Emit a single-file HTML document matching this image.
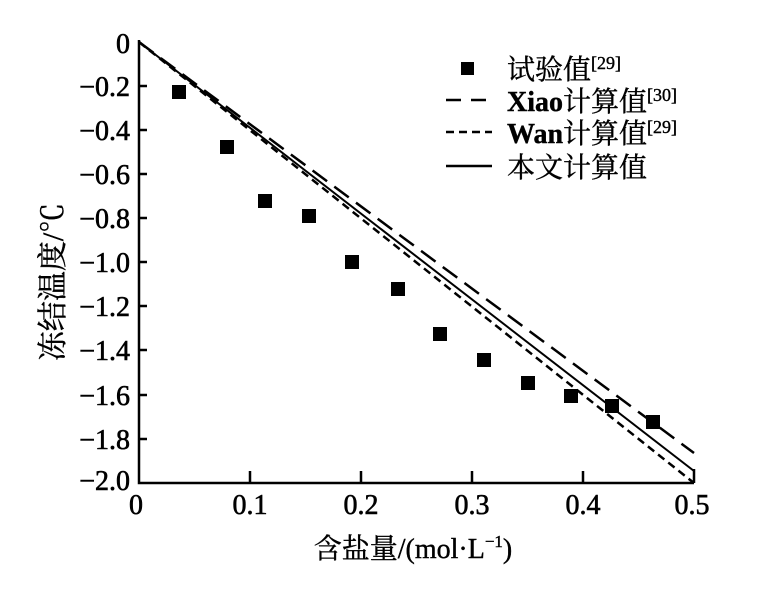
<!DOCTYPE html>
<html><head><meta charset="utf-8"><style>
html,body{margin:0;padding:0;background:#fff;}
svg{display:block;}
text{font-family:"Liberation Serif","Noto Serif CJK SC","Noto Sans CJK SC",serif;fill:#000;}
</style></head><body>
<svg width="780" height="597" viewBox="0 0 780 597" xmlns="http://www.w3.org/2000/svg">
<g stroke="#000" stroke-width="2.5" fill="none">
<path d="M139,40 V483 H694"/>
<path d="M139,86 h8 M139,130 h8 M139,174 h8 M139,218 h8 M139,262 h8 M139,306 h8 M139,350 h8 M139,395 h8 M139,439 h8"/>
<path d="M250,483 v-12 M361,483 v-12 M472,483 v-12 M583,483 v-12 M694,483 v-14"/>
</g>
<g stroke="#000" fill="none">
<line x1="139" y1="42" x2="694" y2="453" stroke-width="2.5" stroke-dasharray="18,9"/>
<line x1="139" y1="42" x2="694" y2="483" stroke-width="2.5" stroke-dasharray="8,5"/>
<line x1="139" y1="42" x2="694" y2="471" stroke-width="2"/>
</g>
<g fill="#000">
<rect x="172" y="85" width="14" height="14"/>
<rect x="220" y="140" width="14" height="14"/>
<rect x="258" y="194" width="14" height="14"/>
<rect x="302" y="209" width="14" height="14"/>
<rect x="345" y="255" width="14" height="14"/>
<rect x="391" y="282" width="14" height="14"/>
<rect x="433" y="327" width="14" height="14"/>
<rect x="477" y="353" width="14" height="14"/>
<rect x="521" y="376" width="14" height="14"/>
<rect x="564" y="389" width="14" height="14"/>
<rect x="605" y="399" width="14" height="14"/>
<rect x="646" y="415" width="14" height="14"/>
</g>
<g font-size="28" text-anchor="end" stroke="#000" stroke-width="0.6">
<text x="130" y="53">0</text>
<text x="130" y="96">−0.2</text>
<text x="130" y="140">−0.4</text>
<text x="130" y="184">−0.6</text>
<text x="130" y="228">−0.8</text>
<text x="130" y="272">−1.0</text>
<text x="130" y="316">−1.2</text>
<text x="130" y="360">−1.4</text>
<text x="130" y="405">−1.6</text>
<text x="130" y="449">−1.8</text>
<text x="130" y="490">−2.0</text>
</g>
<g font-size="28" text-anchor="middle" stroke="#000" stroke-width="0.6">
<text x="136" y="514">0</text>
<text x="250" y="514">0.1</text>
<text x="361" y="514">0.2</text>
<text x="472" y="514">0.3</text>
<text x="583" y="514">0.4</text>
<text x="692" y="514">0.5</text>
</g>
<text x="413" y="558" font-size="28" text-anchor="middle" stroke="#000" stroke-width="0.4">含盐量/(mol·L<tspan font-size="17" dy="-11">−1</tspan><tspan dy="11">)</tspan></text>
<text transform="translate(63,282) rotate(-90)" font-size="30" text-anchor="middle" stroke="#000" stroke-width="0.4">冻结温度/℃</text>
<rect x="461" y="62" width="13" height="13" fill="#000"/>
<g stroke="#000" stroke-width="2.5">
<line x1="446" y1="100" x2="492" y2="100" stroke-dasharray="15,10"/>
<line x1="446" y1="132" x2="492" y2="132" stroke-dasharray="8,5"/>
<line x1="446" y1="166" x2="492" y2="166"/>
</g>
<g font-size="28" stroke="#000" stroke-width="0.4">
<text x="507" y="79">试验值<tspan font-size="18" dy="-10">[29]</tspan></text>
<text x="507" y="111"><tspan font-weight="bold">Xiao</tspan>计算值<tspan font-size="18" dy="-10">[30]</tspan></text>
<text x="507" y="143"><tspan font-weight="bold">Wan</tspan>计算值<tspan font-size="18" dy="-10">[29]</tspan></text>
<text x="507" y="177">本文计算值</text>
</g>
</svg>
</body></html>
